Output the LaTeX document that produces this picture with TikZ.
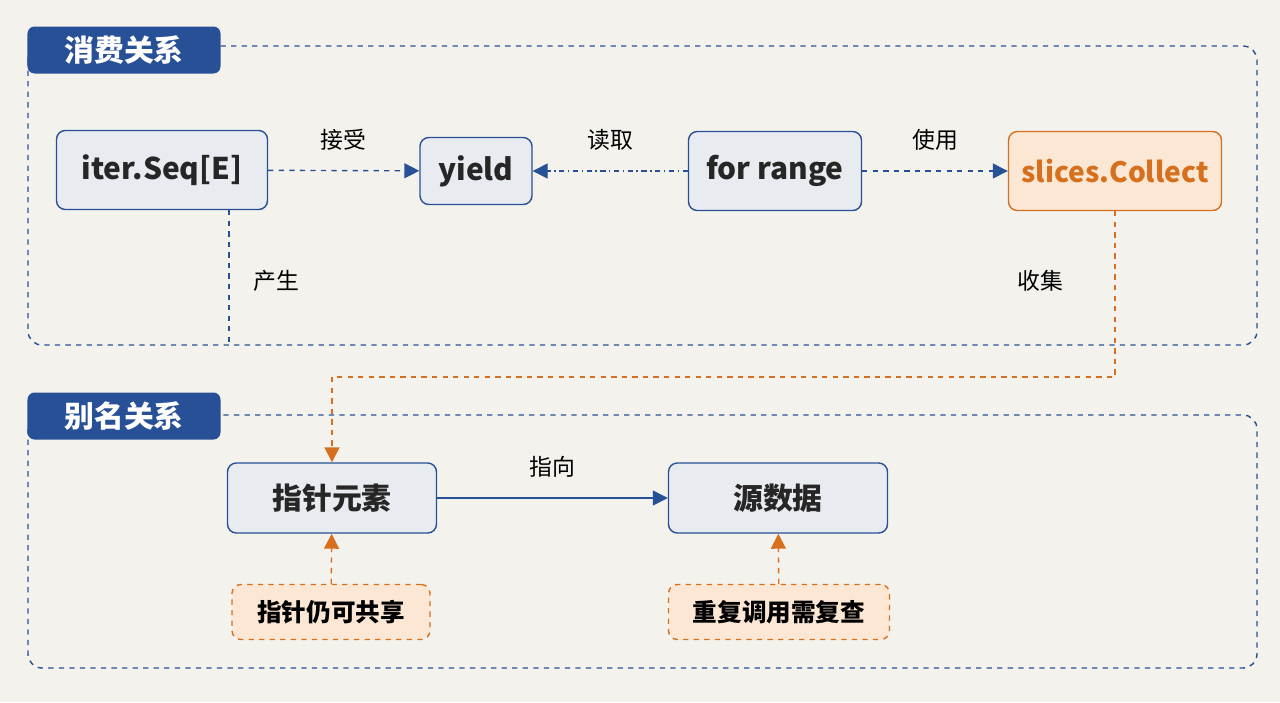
\documentclass[tikz,border=0pt]{standalone}
\usepackage{fontspec}
\setmainfont{Noto Sans CJK SC}
\usetikzlibrary{positioning,arrows.meta}
\definecolor{bgpaper}{RGB}{244,242,236}
\definecolor{myblue}{RGB}{40,80,150}
\definecolor{boxfill}{RGB}{232,235,240}
\definecolor{myorange}{RGB}{214,112,30}
\definecolor{orangefill}{RGB}{251,231,211}
\begin{document}
\begin{tikzpicture}[x=0.2mm,y=-0.2mm,thick,
  frame/.style={draw=myblue,dashed,rounded corners=8pt},
  title/.style={fill=myblue,text=white,font=\fontsize{17}{20}\selectfont\bfseries,rounded corners=4pt,
    minimum width=38.6mm,minimum height=9.4mm},
  bnode/.style={draw=myblue,fill=boxfill,rounded corners=5pt,text=black!85,font=\fontsize{17}{20}\selectfont\bfseries},
  onode/.style={draw=myorange,fill=orangefill,rounded corners=5pt,text=myorange,font=\fontsize{16}{19}\selectfont\bfseries},
  oreq/.style={draw=myorange,dashed,fill=orangefill,rounded corners=5pt,font=\fontsize{14}{17}\selectfont\bfseries,
    minimum height=11mm},
  lbl/.style={font=\fontsize{13}{16}\selectfont},
  barrow/.style={draw=myblue,-{Triangle[length=3mm,width=3mm]}},
  oarrow/.style={draw=myorange,dashed,-{Triangle[length=3mm,width=3mm]}}]

  \fill[bgpaper] (0,0) rectangle (1280,702);

  % frames and titles
  \draw[frame] (28,46) rectangle (1257,345);
  \draw[frame] (28,415) rectangle (1257,668);
  \node[title] (t1) at (124,50) {消费关系};
  \node[title] (t2) at (124,416) {别名关系};

  % consumer chain
  \node[bnode,minimum width=42.2mm,minimum height=15.8mm] (iter) at (162,170) {iter.Seq[E]};
  \node[bnode,minimum width=22.4mm,minimum height=13.4mm] (yield) at (476,171) {yield};
  \node[bnode,minimum width=34.6mm,minimum height=15.8mm] (range) at (775,171) {for range};
  \node[onode,minimum width=42.6mm,minimum height=15.8mm] (collect) at (1115,171) {slices.Collect};

  \draw[barrow,dashed] (iter) -- node[lbl,above=8pt] {接受} (yield);
  \draw[barrow,dash dot] (range) -- node[lbl,above=8pt] {读取} (yield);
  \draw[barrow,dashed] (range) -- node[lbl,above=8pt] {使用} (collect);

  \coordinate (gen) at (229,345);
  \draw[myblue,dashed] (iter.south -| gen) -- (gen);
  \node[lbl] (lgen) at (276,281) {产生};
  \node[lbl] (lcol) at (1040,281) {收集};

  % alias chain
  \node[bnode,minimum width=41.8mm,minimum height=14mm] (ptr) at (332,498) {指针元素};
  \node[bnode,minimum width=43.8mm,minimum height=14mm] (src) at (778,498) {源数据};
  \draw[barrow] (ptr) -- node[lbl,above=8pt] {指向} (src);

  \coordinate (bend) at (1115,377);
  \draw[oarrow] (collect.south) -- (bend) -| (ptr.north);

  \node[oreq,minimum width=39.6mm] (share) at (331,612) {指针仍可共享};
  \node[oreq,minimum width=44.2mm] (recheck) at (779,612) {重复调用需复查};
  \draw[oarrow] (share) -- (ptr);
  \draw[oarrow] (recheck) -- (src);
\end{tikzpicture}
\end{document}
